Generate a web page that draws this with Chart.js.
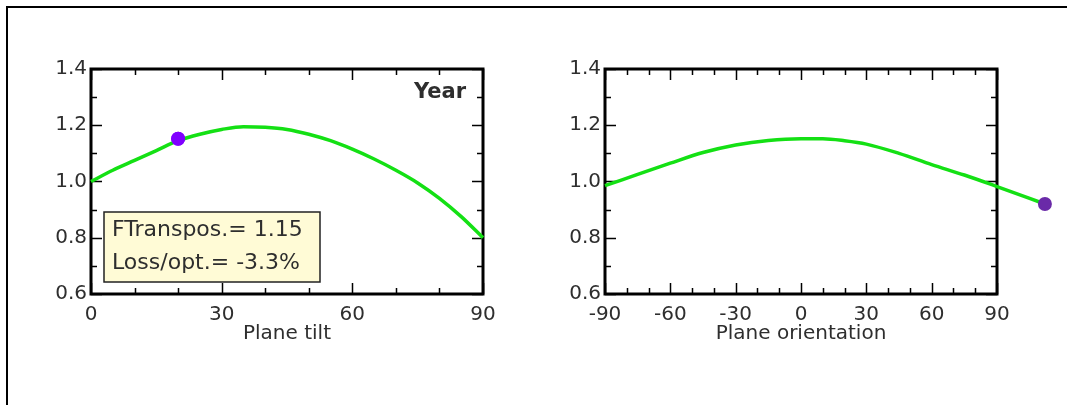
<!DOCTYPE html>
<html>
<head>
<meta charset="utf-8">
<script src="https://cdn.jsdelivr.net/npm/chart.js@4/dist/chart.umd.min.js"></script>
<style>
  html, body { margin: 0; padding: 0; background: #fff; }
  #wrap { position: relative; width: 1067px; height: 405px; overflow: hidden; }
  #frame { position: absolute; left: 6px; top: 6px; width: 1100px; height: 450px;
           border-top: 2px solid #000; border-left: 2px solid #000; }
  #tiltCanvas { position: absolute; left: 0; top: 0; }
  #orientCanvas { position: absolute; left: 540px; top: 0; }
</style>
</head>
<body>
<div id="wrap">
  <div id="frame"></div>
  <canvas id="tiltCanvas" width="540" height="405"></canvas>
  <canvas id="orientCanvas" width="527" height="405"></canvas>
</div>
<script>
// Plane tilt curve (transposition factor vs tilt)
const tiltX = [0, 5, 10, 15, 20, 25, 30, 35, 40, 45, 50, 55, 60, 65, 70, 75, 80, 85, 90];
const tiltY = [1.0, 1.04, 1.075, 1.11, 1.145, 1.168, 1.185, 1.195, 1.193, 1.185, 1.168, 1.145, 1.115, 1.08, 1.04, 0.995, 0.94, 0.875, 0.80];
const tiltMarker = { x: 20, y: 1.152 };

// Plane orientation curve (transposition factor vs azimuth)
const orientX = [-90, -75, -60, -45, -30, -15, 0, 10, 20, 30, 45, 60, 75, 90, 112];
const orientY = [0.985, 1.025, 1.065, 1.103, 1.13, 1.146, 1.152, 1.152, 1.145, 1.133, 1.10, 1.06, 1.023, 0.982, 0.92];
const orientMarker = { x: 112, y: 0.92 };

// Tick values
const yMajor = [0.6, 0.8, 1.0, 1.2, 1.4];
const yMinor = [0.7, 0.9, 1.1, 1.3];
const tiltMajor = [0, 30, 60, 90];
const tiltMinor = [10, 20, 40, 50, 70, 80];
const orientMajor = [-90, -60, -30, 0, 30, 60, 90];
const orientMinor = [-80, -70, -50, -40, -20, -10, 10, 20, 40, 50, 70, 80];

const noteLines = ['FTranspos.= 1.15', 'Loss/opt.= -3.3%'];
const periodLabel = 'Year';

const FONT = '"DejaVu Sans", Verdana, sans-serif';
const TEXT = '#2e2e2e';

// Frame, inside ticks on all four sides, note box and period label
const frameTicks = {
  id: 'frameTicks',
  beforeDatasetsDraw(chart, args, opts) {
    const { ctx, chartArea: a, scales: { x, y } } = chart;
    ctx.save();
    ctx.strokeStyle = '#000';
    ctx.lineWidth = 1.5;
    const vTicks = (list, len) => list.forEach(v => {
      const px = Math.round(x.getPixelForValue(v)) + 0.5;
      ctx.beginPath();
      ctx.moveTo(px, a.bottom); ctx.lineTo(px, a.bottom - len);
      ctx.moveTo(px, a.top); ctx.lineTo(px, a.top + len);
      ctx.stroke();
    });
    const hTicks = (list, len) => list.forEach(v => {
      const py = Math.round(y.getPixelForValue(v)) + 0.5;
      ctx.beginPath();
      ctx.moveTo(a.left, py); ctx.lineTo(a.left + len, py);
      ctx.moveTo(a.right, py); ctx.lineTo(a.right - len, py);
      ctx.stroke();
    });
    vTicks(opts.xMajor, 11); vTicks(opts.xMinor, 6);
    hTicks(yMajor, 11); hTicks(yMinor, 6);
    ctx.lineWidth = 3;
    ctx.strokeRect(a.left, a.top, a.right - a.left, a.bottom - a.top);

    if (opts.note) {
      const bx = a.left + 13, by = a.top + 143, bw = 216, bh = 70;
      ctx.fillStyle = '#fffbd6';
      ctx.fillRect(bx, by, bw, bh);
      ctx.lineWidth = 1.5;
      ctx.strokeStyle = '#222';
      ctx.strokeRect(bx, by, bw, bh);
      ctx.fillStyle = TEXT;
      ctx.font = '22px ' + FONT;
      ctx.textBaseline = 'middle';
      ctx.textAlign = 'left';
      opts.note.forEach((t, i) => ctx.fillText(t, bx + 8, by + 18 + i * 33));
    }
    if (opts.label) {
      ctx.fillStyle = TEXT;
      ctx.font = 'bold 21px ' + FONT;
      ctx.textAlign = 'right';
      ctx.textBaseline = 'middle';
      ctx.fillText(opts.label, a.right - 17, a.top + 24);
    }
    ctx.restore();
  },
  // Chart.js skips points outside the chart area, so the marker is painted here
  // at the position the library computed for it
  afterDatasetsDraw(chart) {
    const meta = chart.getDatasetMeta(0);
    const ctx = chart.ctx;
    ctx.save();
    meta.data.forEach(el => {
      ctx.beginPath();
      ctx.arc(el.x, el.y, el.options.radius, 0, Math.PI * 2);
      ctx.fillStyle = el.options.backgroundColor;
      ctx.fill();
    });
    ctx.restore();
  }
};

function makeChart(id, xs, ys, marker, markerColor, xMin, xMax, xMajor, xMinor, yWidth, padRight, title, extra) {
  const curve = xs.map((v, i) => ({ x: v, y: ys[i] }));
  return new Chart(document.getElementById(id), {
    type: 'scatter',
    data: {
      datasets: [
        { data: [marker], pointRadius: 7, pointBackgroundColor: markerColor,
          pointBorderWidth: 0, clip: false },
        { data: curve, showLine: true, borderColor: '#14e014', borderWidth: 3.5,
          pointRadius: 0, cubicInterpolationMode: 'monotone', clip: false }
      ]
    },
    options: {
      responsive: false,
      animation: false,
      layout: { padding: { top: 69, right: padRight, bottom: 59, left: 0 } },
      plugins: {
        legend: { display: false },
        tooltip: { enabled: false },
        frameTicks: Object.assign({ xMajor, xMinor }, extra)
      },
      scales: {
        x: {
          type: 'linear', bounds: 'data',
          // range set here (not min/max) so points past the axis end are still drawn
          afterDataLimits: s => { s.min = xMin; s.max = xMax; },
          grid: { display: false, drawTicks: false },
          border: { display: false },
          afterBuildTicks: s => { s.ticks = xMajor.map(v => ({ value: v })); },
          afterFit: s => { s.height = 52; },
          ticks: { padding: 9, color: TEXT, font: { family: FONT, size: 20 } },
          title: { display: true, text: title, color: TEXT, padding: 0,
                   font: { family: FONT, size: 20 } }
        },
        y: {
          type: 'linear', min: 0.6, max: 1.4,
          grid: { display: false, drawTicks: false },
          border: { display: false },
          afterBuildTicks: s => { s.ticks = yMajor.map(v => ({ value: v })); },
          afterFit: s => { s.width = yWidth; },
          ticks: { padding: 4, color: TEXT, font: { family: FONT, size: 20 },
                   callback: v => Number(v).toFixed(1) }
        }
      }
    },
    plugins: [frameTicks]
  });
}

makeChart('tiltCanvas', tiltX, tiltY, tiltMarker, '#8000ff', 0, 90, tiltMajor, tiltMinor,
          91, 57, 'Plane tilt', { note: noteLines, label: periodLabel });
makeChart('orientCanvas', orientX, orientY, orientMarker, '#6a2aa8', -90, 90, orientMajor, orientMinor,
          65, 70, 'Plane orientation', {});
</script>
</body>
</html>
